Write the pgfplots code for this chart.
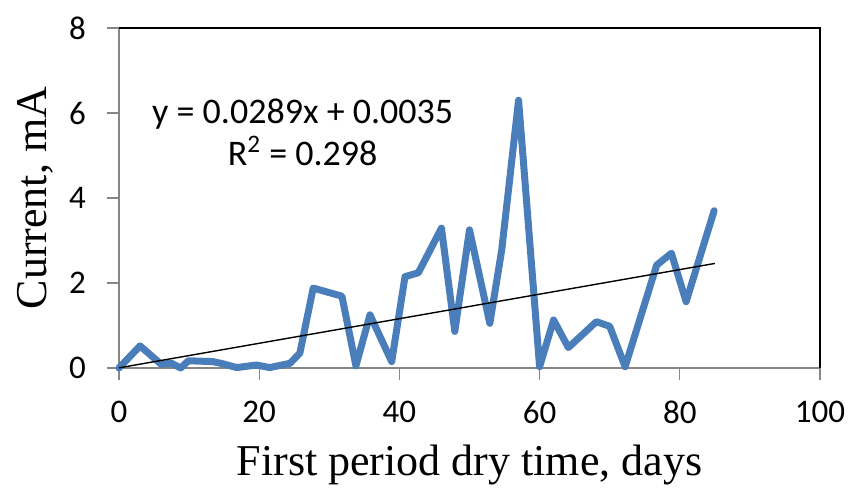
\documentclass[border=0pt]{standalone}
\usepackage{fontspec}
\setmainfont{Liberation Serif}
\newfontfamily\carlito{Carlito}
\usepackage{pgfplots}
\pgfplotsset{compat=1.18}
\definecolor{xlblue}{HTML}{4A7EBB}
\definecolor{axgray}{HTML}{868686}
\begin{document}
\begin{tikzpicture}
\begin{axis}[
  name=ax,
  scale only axis,
  width=350.5pt, height=170pt,
  xmin=0, xmax=100, ymin=0, ymax=8,
  xtick={0,20,...,100}, ytick={0,2,...,8},
  axis x line*=bottom, axis y line*=left,
  axis line style={axgray, line width=0.6pt},
  tick style={axgray, line width=0.6pt},
  tick align=outside,
  major tick length=6pt,
  /pgf/number format/assume math mode=true,
  tick label style={font=\carlito\fontsize{16.5}{19}\selectfont, black},
  xticklabel style={yshift=-7pt},
  yticklabel style={xshift=-7pt},
  xlabel={First period dry time, days},
  ylabel={Current, mA},
  label style={font=\fontsize{22}{26}\selectfont},
  xlabel style={at={(axis description cs:0.5,-0.285)}, anchor=center},
  ylabel style={at={(axis description cs:-0.12,0.5)}, anchor=center, rotate=0},
  clip=false,
]
\draw[black, line width=0.6pt] (rel axis cs:0,1) -- (rel axis cs:1,1) -- (rel axis cs:1,0);
\addplot[xlblue, line width=3.5pt, line join=round, line cap=round] coordinates {
(0,0) (3,0.52) (6,0.09) (7.5,0.11) (8.8,0) (9.9,0.17) (13.4,0.15) (14.8,0.1)
(16.8,0.01) (19.6,0.07) (21.5,0.01) (24.4,0.11) (25.8,0.35) (27.7,1.88)
(31.8,1.69) (33.8,0.05) (35.8,1.25) (38.9,0.15) (40.8,2.15) (42.7,2.24)
(46.0,3.29) (47.9,0.86) (50,3.25) (52.9,1.05) (54.6,2.78) (57,6.3)
(60,0.03) (62,1.13) (64.1,0.48) (68.1,1.09) (70,0.98) (72.2,0.03)
(76.7,2.42) (78.8,2.7) (80.9,1.56) (84.9,3.7)
};
\addplot[black, line width=0.7pt] coordinates {(0,0.0035) (85,2.46)};
\node[align=center, font=\carlito\fontsize{18}{21}\selectfont] at (axis cs:26.2,5.55)
  {y = 0.0289x + 0.0035\\R\textsuperscript{2} = 0.298};
\end{axis}
\pgfresetboundingbox
\path[use as bounding box] ([shift={(-59.5pt,-63.5pt)}]ax.south west) rectangle ([shift={(15.5pt,14pt)}]ax.north east);
\end{tikzpicture}
\end{document}
